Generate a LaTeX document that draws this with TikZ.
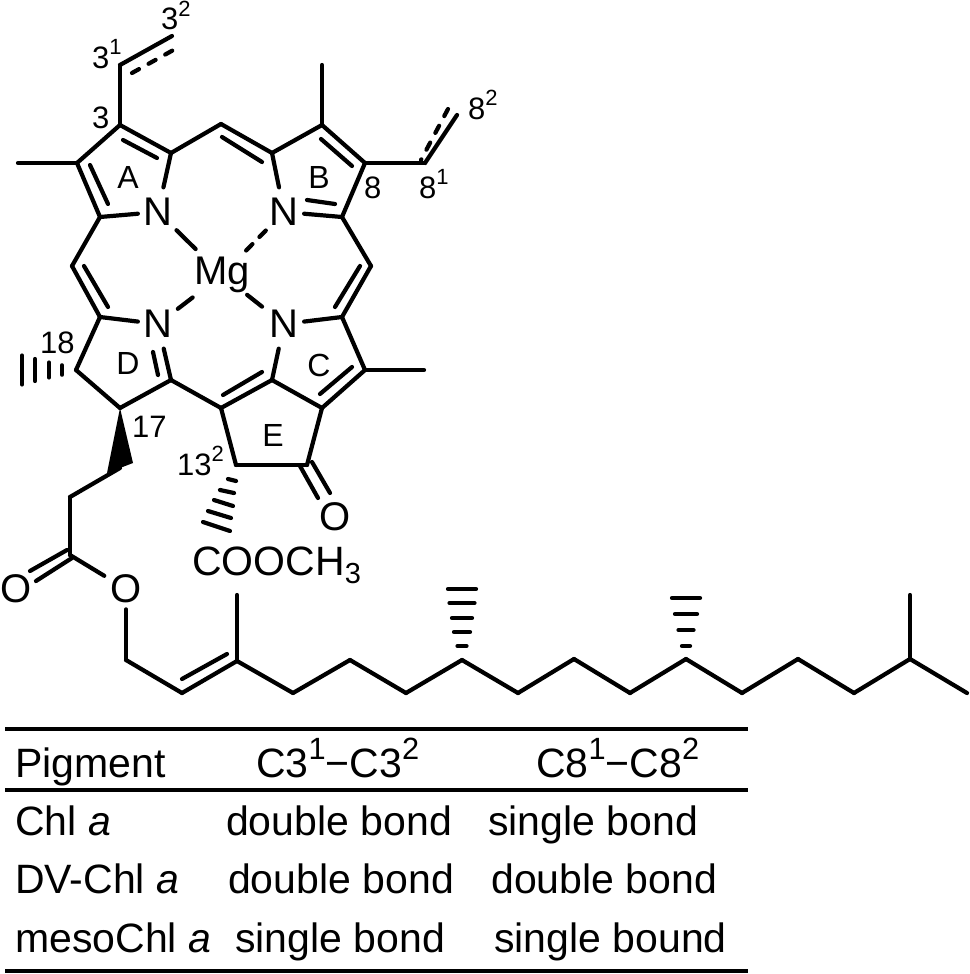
\documentclass[tikz,border=0pt]{standalone}
\usepackage{fontspec}
\setmainfont{Liberation Sans}
\newcommand{\upnum}[1]{\raisebox{0.42em}{\fontsize{0.75em}{1em}\selectfont #1}}
\newcommand{\upsmall}[1]{{\fontsize{22}{22}\selectfont\raisebox{0.6em}{#1}}}
\tikzset{
  atom/.style={font=\fontsize{40}{40}\selectfont,inner xsep=5.5pt,inner ysep=10.7pt},
  letter/.style={font=\fontsize{40}{40}\selectfont,inner sep=0pt},
  ring/.style={font=\fontsize{32}{32}\selectfont,inner sep=0pt},
  locant/.style={font=\fontsize{31}{31}\selectfont,inner sep=0pt,anchor=base west},
  cell/.style={font=\fontsize{41}{41}\selectfont,inner sep=0pt,anchor=base west},
  bond/.style={line width=4.2pt,line cap=round,line join=round},
  rule/.style={line width=4.5pt}
}
\begin{document}
\begin{tikzpicture}[x=1pt,y=-1pt]
  \useasboundingbox (0,0) rectangle (969,974);
  % skeleton atoms
  \foreach \n/\x/\y in {a1/120/125,a2/77/163,a3/100/217,a4/171/153,me1/221/124,
      b1/272/153,b2/322/125,b3/365/163,b4/342/217,vA/120/65,vAe/172/36,mA/18/163,mB/322/65,
      vB/425/163,vBe/457/115,me2/72/266,me3/371/266,d1/100/317,c1/342/317,
      d2/76/370,d3/120/408,d4/171/380,e1/221/408,c2/272/380,c3/322/408,c4/365/370,mC/424/370,
      e2/236/465,e3/307/465,w1/120/468,s1/70/497,s2/70/555,
      t1/126/660,t2/182/693,t3/237/661,t4/237/595,t5/293/693,t6/350/660,t7/406/693,t8/462/660,
      t9/518/693,t10/574/659,t11/630/693,t12/686/659,t13/742/693,t14/798/659,t15/854/693,
      t16/910/659,t17/967/693,t18/910/595}
    \coordinate (\n) at (\x,\y);
  \node[atom] (nA) at (158,212) {N};
  \node[atom] (nB) at (284,212) {N};
  \node[atom] (nC) at (284,324) {N};
  \node[atom] (nD) at (158,324) {N};
  \node[letter] (mg) at (222,275) {Mg};
  \node[letter] (oK) at (335,517) {O};
  \node[letter,inner sep=6pt] (oE) at (126,589) {O};
  \node[letter] (oC) at (15.6,589) {O};
  \node[letter,anchor=base west,font=\fontsize{41}{41}\selectfont] (ester) at (192,575) {COOCH\raisebox{-0.2em}{\fontsize{29}{29}\selectfont 3}};
  % ring letters
  \node[ring] (lA) at (128,177) {A};
  \node[ring] (lB) at (319,177) {B};
  \node[ring] (lC) at (319,365) {C};
  \node[ring] (lD) at (128,363) {D};
  \node[ring] (lE) at (273,435) {E};
  % locants
  \node[locant] (l32) at (161,30) {3\upsmall{2}};
  \node[locant] (l31) at (92,68) {3\upsmall{1}};
  \node[locant] (l3) at (92,128) {3};
  \node[locant] (l8) at (364,198) {8};
  \node[locant] (l81) at (419,198) {8\upsmall{1}};
  \node[locant] (l82) at (468,119) {8\upsmall{2}};
  \node[locant] (l18) at (40,353) {18};
  \node[locant] (l17) at (132,437) {17};
  \node[locant] (l132) at (177,475) {13\upsmall{2}};
  % single bonds
  \foreach \a/\b in {a1/a2,a2/a3,a1/a4,a4/nA,a3/nA,a4/me1,me1/b1,b1/nB,b1/b2,b2/b3,b3/b4,b4/nB,
      a1/vA,vA/vAe,a2/mA,b2/mB,b3/vB,vB/vBe,a3/me2,me2/d1,b4/me3,me3/c1,d1/nD,c1/nC,
      d1/d2,d2/d3,d3/d4,d4/nD,d4/e1,e1/c2,c2/nC,c2/c3,c3/c4,c4/c1,c4/mC,e1/e2,e2/e3,e3/c3,
      w1/s1,s1/s2,s2/oE,oE/t1,t1/t2,t2/t3,t3/t4,t3/t5,t5/t6,t6/t7,t7/t8,t8/t9,t9/t10,t10/t11,
      t11/t12,t12/t13,t13/t14,t14/t15,t15/t16,t16/t17,t16/t18}
    \draw[bond] (\a) -- (\b);
  % inner lines of the double bonds
  \foreach \xa/\ya/\xb/\yb in {123/140/157/158,90/165/108/204,222/137/262/162,321/139/352/166,
      84/266/108/307,360/266/335/307,307/200/335/204,153/352/158/375,223/395/262/372,320/394/352/367,
      312/462/330/493,30/571/67/550,36/581/72/558,182/679/227/654}
    \draw[bond] (\xa,\ya) -- (\xb,\yb);
  \draw[bond] (e3) ++ (-7,1) -- (318,498);
  % broken lines of the vinyl groups
  \draw[bond,dash pattern=on 8pt off 11pt] (132,73) -- (177,48);
  \draw[bond,dash pattern=on 8pt off 11pt] (448,109) -- (421,160);
  % magnesium
  \draw[bond,shorten <=26pt,shorten >=37pt] (nA.center) -- (mg.center);
  \draw[bond,shorten <=26pt,shorten >=27pt,dash pattern=on 9pt off 10pt] (nB.center) -- (mg.center);
  \draw[bond,shorten <=25pt,shorten >=37pt] (nD.center) -- (mg.center);
  \draw[bond,shorten <=28pt,shorten >=32pt] (nC.center) -- (mg.center);
  % wedge and hashes
  \fill (d3) -- (133,463) -- (107,473) -- cycle;
  \foreach \x/\h in {62/4.7,49/7.5,35/11,22/14.5}
    \draw[bond] (\x,370-\h) -- (\x,370+\h);
  \foreach \xa/\ya/\xb/\yb in {228/479/236/481,220/490/234/493,214/500/233/506,208/511/231/518,203/522/230/531}
    \draw[bond] (\xa,\ya) -- (\xb,\yb);
  \foreach \y/\h in {589/14,603/12.5,618/10,632/8,646/4.5}
    \draw[bond] (462-\h,\y) -- (462+\h,\y);
  \foreach \y/\h in {598/14,614/11,630/7.5,646/4}
    \draw[bond] (686-\h,\y) -- (686+\h,\y);
  % table
  \coordinate (r1) at (5,729);
  \coordinate (r1e) at (748,729);
  \coordinate (r2) at (5,790);
  \coordinate (r2e) at (748,790);
  \coordinate (r3) at (5,971);
  \coordinate (r3e) at (748,971);
  \draw[rule] (r1) -- (r1e);
  \draw[rule] (r2) -- (r2e);
  \draw[rule] (r3) -- (r3e);
  \node[cell] (hP) at (15,777) {Pigment};
  \node[cell] (hC3) at (256,777) {C3\upnum{1}−C3\upnum{2}};
  \node[cell] (hC8) at (536,777) {C8\upnum{1}−C8\upnum{2}};
  \node[cell] (p1) at (15,835) {Chl \emph{a}};
  \node[cell] (p2) at (15,893) {DV-Chl \emph{a}};
  \node[cell] (p3) at (15,952) {mesoChl \emph{a}};
  \node[cell] (c31) at (226,835) {double bond};
  \node[cell] (c32) at (228,893) {double bond};
  \node[cell] (c33) at (235,952) {single bond};
  \node[cell] (c81) at (488,835) {single bond};
  \node[cell] (c82) at (491,893) {double bond};
  \node[cell] (c83) at (494,952) {single bound};
\end{tikzpicture}
\end{document}
